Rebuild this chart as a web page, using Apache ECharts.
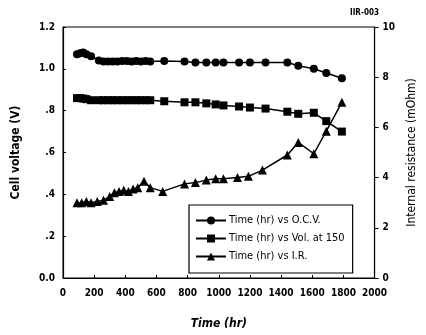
<!DOCTYPE html>
<html><head><meta charset="utf-8">
<script src="https://cdn.jsdelivr.net/npm/echarts@6/dist/echarts.min.js"></script>
<style>html,body{margin:0;padding:0;background:#fff}#c{width:426px;height:335px}</style>
</head><body><div id="c"></div>
<script>
// Data (hours, value)
const ocvHours = [90,110,130,150,180,230,260,290,320,350,380,410,440,470,500,530,560,650,780,850,920,980,1030,1130,1200,1300,1440,1510,1610,1690,1790];
const ocvValues = [1.07,1.075,1.078,1.07,1.06,1.04,1.035,1.035,1.035,1.035,1.037,1.037,1.035,1.037,1.035,1.037,1.035,1.037,1.035,1.03,1.03,1.03,1.03,1.03,1.03,1.03,1.03,1.015,1.0,0.98,0.955];
const volHours = [90,110,130,150,180,230,260,290,320,350,380,410,440,470,500,530,560,650,780,850,920,980,1030,1130,1200,1300,1440,1510,1610,1690,1790];
const volValues = [0.86,0.86,0.858,0.855,0.85,0.85,0.85,0.85,0.85,0.85,0.85,0.85,0.85,0.85,0.85,0.85,0.85,0.845,0.84,0.84,0.835,0.83,0.825,0.82,0.815,0.81,0.795,0.785,0.79,0.75,0.70];
const irHours = [90,120,150,180,220,260,300,330,360,390,420,450,480,520,560,640,780,850,920,980,1030,1120,1190,1280,1440,1510,1610,1690,1790];
const irValues = [3.0,3.0,3.05,3.0,3.05,3.1,3.25,3.4,3.45,3.5,3.45,3.55,3.6,3.85,3.6,3.45,3.75,3.8,3.9,3.95,3.95,4.0,4.05,4.3,4.9,5.4,4.95,5.85,7.0];
const seriesNames = ['Time (hr) vs O.C.V.','Time (hr) vs Vol. at 150','Time (hr) vs I.R.'];
const leftTickLabels = {'0':'0.0','0.2':'.2','0.4':'.4','0.6':'.6','0.8':'.8','1':'1.0','1.2':'1.2'};

const pair = (xs, ys) => xs.map((x,i)=>[x,ys[i]]);
const FONT = 'DejaVu Sans Condensed';
const lab = {color:'#000', fontFamily:FONT, fontWeight:'bold', fontSize:10};
const chart = echarts.init(document.getElementById('c'), null, {renderer:'canvas'});
chart.setOption({
  animation:false,
  backgroundColor:'#fff',
  grid:{left:63, right:50, top:27, bottom:56, show:true, borderColor:'#000', borderWidth:1},
  xAxis:{type:'value', min:0, max:2000, interval:200,
    axisLine:{show:true,lineStyle:{color:'#000',width:1.2}},
    axisTick:{show:true,inside:true,length:3,lineStyle:{color:'#000'}},
    splitLine:{show:false},
    axisLabel:Object.assign({margin:10, showMaxLabel:true, showMinLabel:true, hideOverlap:false, formatter:v=>String(v)},lab),
    name:'Time (hr)', nameLocation:'middle', nameGap:40,
    nameTextStyle:{color:'#000',fontFamily:FONT,fontWeight:'bold',fontStyle:'italic',fontSize:12}},
  yAxis:[
    {type:'value', min:0, max:1.2, interval:0.2, position:'left',
     axisLine:{show:true,lineStyle:{color:'#000',width:1.2}},
     axisTick:{show:true,inside:true,length:3,lineStyle:{color:'#000'}},
     splitLine:{show:false},
     axisLabel:Object.assign({margin:8, formatter:v=>leftTickLabels[String(+v.toFixed(1))]||v},lab),
     name:'Cell voltage (V)', nameLocation:'middle', nameGap:41, nameRotate:90,
     nameTextStyle:{color:'#000',fontFamily:FONT,fontWeight:'bold',fontSize:12}},
    {type:'value', min:0, max:10, interval:2, position:'right',
     axisLine:{show:true,lineStyle:{color:'#000',width:1.2}},
     axisTick:{show:true,inside:false,length:4,lineStyle:{color:'#000'}},
     splitLine:{show:false},
     axisLabel:Object.assign({margin:8},lab),
     name:'Internal resistance (mOhm)', nameLocation:'middle', nameGap:28, nameRotate:90,
     nameTextStyle:{color:'#000',fontFamily:FONT,fontSize:12}}
  ],
  legend:{orient:'vertical', left:189, top:205, width:178, itemGap:7, itemWidth:30, itemHeight:10,
    padding:[10,8,11,6], borderColor:'#000', borderWidth:1.2, backgroundColor:'#fff',
    textStyle:{color:'#000',fontFamily:FONT,fontSize:11,padding:[0,10,0,-2]},
    data:seriesNames},
  graphic:[{type:'text', left:350, top:9, style:{text:'IIR-003', fill:'#000', font:'bold 8px "DejaVu Sans Condensed"'}}],
  series:[
    {name:seriesNames[0], type:'line', yAxisIndex:0, data:pair(ocvHours,ocvValues),
     symbol:'circle', symbolSize:8, itemStyle:{color:'#000'}, lineStyle:{color:'#000',width:1.5}},
    {name:seriesNames[1], type:'line', yAxisIndex:0, data:pair(volHours,volValues),
     symbol:'rect', symbolSize:8, itemStyle:{color:'#000'}, lineStyle:{color:'#000',width:1.5}},
    {name:seriesNames[2], type:'line', yAxisIndex:1, data:pair(irHours,irValues),
     symbol:'triangle', symbolSize:9, itemStyle:{color:'#000'}, lineStyle:{color:'#000',width:1.5}}
  ]
});
</script></body></html>
